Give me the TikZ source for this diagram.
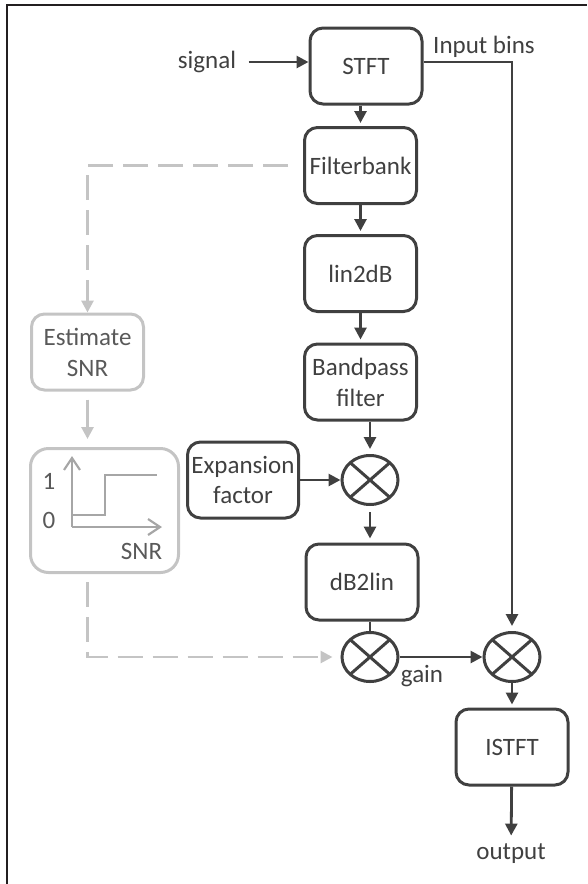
\documentclass[tikz,border=0pt]{standalone}
\usepackage{fontspec}
\setmainfont{Carlito}
\usetikzlibrary{arrows.meta,shapes.geometric}
\definecolor{dark}{HTML}{404040}
\definecolor{lgray}{HTML}{C4C4C4}
\definecolor{mgray}{HTML}{A6A6A6}
\definecolor{tgray}{HTML}{595959}
\definecolor{framecol}{HTML}{231F20}

\begin{document}
\begin{tikzpicture}[
  x = 1pt, y = -1pt,
  font = \fontsize{25}{30}\selectfont,
  block/.style = {draw=dark, line width=3pt, rounded corners=13pt,
    minimum width=112pt, minimum height=76pt, inner sep=2pt,
    align=center, text=dark},
  gblock/.style = {block, draw=lgray, text=tgray},
  mult/.style = {ellipse, draw=dark, line width=3pt,
    minimum width=56pt, minimum height=49pt, inner sep=0pt,
    path picture = {\draw[dark, line width=3pt]
      (path picture bounding box.north west) -- (path picture bounding box.south east)
      (path picture bounding box.north east) -- (path picture bounding box.south west);}},
  flow/.style = {draw=dark, line width=2.8pt, -{Triangle[length=12pt,width=12pt]}},
  gflow/.style = {draw=lgray, line width=2.8pt, -{Triangle[length=12pt,width=12pt]}},
  gdash/.style = {gflow, dash pattern=on 25pt off 10pt},
  axis/.style = {draw=mgray, line width=2.2pt, -{Straight Barb[length=12pt,width=16pt]}}
]
\useasboundingbox (0,0) rectangle (587,884);
\draw[framecol, line width=2.5pt] (7,884) -- (7,5) -- (587,5);

\node[block] (stft) at (366,66) {STFT};
\node[block] (filterbank) at (360.5,165.5) {Filterbank};
\node[block] (lindb) at (360.5,273.5) {lin2dB};
\node[block, font=\fontsize{25}{31}\selectfont] (bandpass) at (360.5,382) {Bandpass\\filter};
\node[mult] (mulexp) at (370,480) {};
\node[block, minimum width=111pt] (expfactor) at (243,480) {Expansion\\factor};
\node[block] (dblin) at (362,582) {dB2lin};
\node[mult] (mulgain) at (370,657) {};
\node[mult] (mulout) at (512,657) {};
\node[block] (istft) at (512,747) {ISTFT};
\node[gblock, font=\fontsize{25}{31}\selectfont] (estsnr) at (87.5,352) {Estimate\\SNR};
\node[gblock, minimum width=148pt, minimum height=124pt, rounded corners=18pt] (stepfn) at (104.5,510.5) {};

\node[text=dark] (signal) at (207,62) {signal};
\node[text=dark] (inbins) at (484,47) {Input bins};
\node[text=dark] (output) at (511,854) {output};
\node[text=dark] (gain) at (422,676) {gain};
\node[text=tgray] (one) at (49,481) {1};
\node[text=tgray] (zero) at (49,520) {0};
\node[text=tgray] (snr) at (141.5,551) {SNR};

\draw[axis] (72,527) -- (72,456);
\draw[axis] (72,527) -- (162,527);
\draw[mgray, line width=2.2pt] (72,515) -- (105,515) -- (105,475) -- (157,475);

\draw[flow] ([xshift=9pt]signal.east) -- (signal.east -| stft.west);
\draw[flow, shorten >=5pt] (stft.east |- signal) -- (signal -| mulout) -- (mulout.north);
\draw[flow, shorten >=3pt] (stft.south -| filterbank) -- (filterbank.north);
\draw[flow, shorten >=3pt] (filterbank) -- (lindb);
\draw[flow, shorten >=3pt] (lindb) -- (bandpass);
\draw[flow, shorten >=5pt] (bandpass.south -| mulexp) -- (mulexp.north);
\draw[flow] (expfactor) -- (mulexp);
\draw[flow, shorten <=6pt, shorten >=4pt] (mulexp) -- (mulexp |- dblin.north);
\draw[dark, line width=2.8pt] (dblin.south -| mulgain) -- (mulgain.north);
\draw[flow] (mulgain) -- (mulout);
\draw[flow, shorten >=3pt] (mulout) -- (istft);
\draw[flow, shorten >=5pt] (istft) -- (output);

\draw[gdash, shorten <=15pt] (filterbank.west) -| (estsnr.north);
\draw[gflow, shorten <=8pt, shorten >=8pt] (estsnr.south) -- (estsnr.south |- stepfn.north);
\draw[gdash, shorten <=8pt, shorten >=8pt] (stepfn.south -| estsnr) |- (mulgain.west);
\end{tikzpicture}
\end{document}
